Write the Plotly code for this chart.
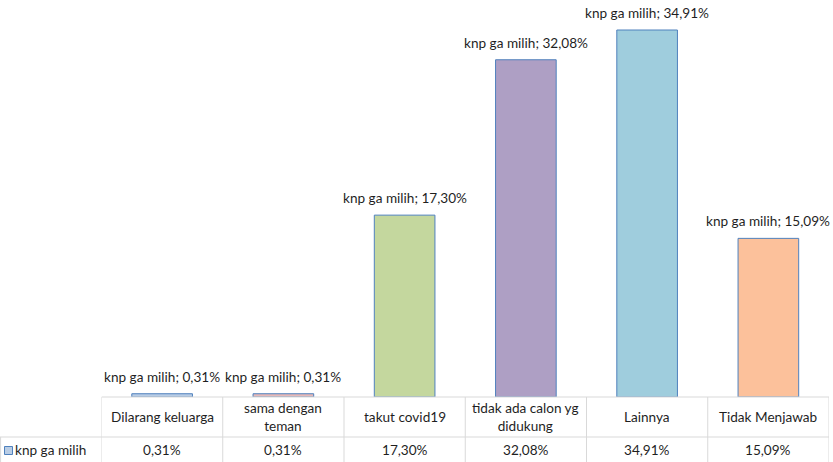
import plotly.graph_objects as go

categories = ["Dilarang keluarga", "sama dengan teman", "takut covid19",
              "tidak ada calon yg didukung", "Lainnya", "Tidak Menjawab"]
table_labels = ["Dilarang keluarga", "sama dengan<br>teman", "takut covid19",
                "tidak ada calon yg<br>didukung", "Lainnya", "Tidak Menjawab"]
series_name = "knp ga milih"
values = [0.31, 0.31, 17.30, 32.08, 34.91, 15.09]
colors = ["#B9CDE5", "#E6B9B8", "#C4D79E", "#AE9FC4", "#9FCDDD", "#FCC19B"]

W, H = 833, 462
FONT = "Lato"
FS = 13.6
TXT = "#1f1f1f"
GRID = "#D9D9D9"

def fmt(v):
    return f"{v:.2f}".replace(".", ",") + "%"

x_left, x_right = 101.5, 829.0
y_base = 397.0
row_sep = 437.0
px_per_unit = (397.0 - 30.0) / 34.91

fig = go.Figure()
fig.add_trace(go.Bar(
    x=categories, y=values, name=series_name,
    marker=dict(color=colors, line=dict(color="#4F81BD", width=1)),
    width=0.5, showlegend=False, hoverinfo="skip",
))

def py(p):
    return (H - p) / H

annotations = []
for c, v in zip(categories, values):
    annotations.append(dict(x=c, y=v, xref="x", yref="y", text=f"{series_name}; {fmt(v)}",
                            showarrow=False, yanchor="bottom", yshift=7,
                            font=dict(family=FONT, size=FS, color=TXT)))
for c, t in zip(categories, table_labels):
    annotations.append(dict(x=c, y=py((y_base + row_sep) / 2), xref="x", yref="paper", text=t,
                            showarrow=False, yanchor="middle",
                            font=dict(family=FONT, size=FS, color=TXT)))
for c, v in zip(categories, values):
    annotations.append(dict(x=c, y=py(449.5), xref="x", yref="paper", text=fmt(v),
                            showarrow=False, yanchor="middle",
                            font=dict(family=FONT, size=FS, color=TXT)))
annotations.append(dict(x=12.5 / W, y=py(449.5), xref="paper", yref="paper", text=series_name,
                        showarrow=False, xanchor="left", yanchor="middle",
                        font=dict(family=FONT, size=FS, color=TXT)))

shapes = []
n = len(categories)
shapes.append(dict(type="line", xref="x", yref="paper", x0=-0.5, x1=n - 0.5,
                   y0=py(y_base), y1=py(y_base), line=dict(color=GRID, width=1)))
shapes.append(dict(type="line", xref="paper", yref="paper", x0=0, x1=x_right / W,
                   y0=py(row_sep), y1=py(row_sep), line=dict(color=GRID, width=1)))
for i in range(n + 1):
    shapes.append(dict(type="line", xref="x", yref="paper", x0=i - 0.5, x1=i - 0.5,
                       y0=py(y_base), y1=0, line=dict(color=GRID, width=1)))
shapes.append(dict(type="line", xref="paper", yref="paper", x0=0.6 / W, x1=0.6 / W,
                   y0=py(row_sep), y1=0, line=dict(color=GRID, width=1)))
# legend key
shapes.append(dict(type="rect", xref="paper", yref="paper", x0=4.5 / W, x1=12.5 / W,
                   y0=py(454.5), y1=py(446.5), fillcolor="#B9CDE5",
                   line=dict(color="#4F81BD", width=1)))

fig.update_layout(
    width=W, height=H, margin=dict(l=0, r=0, t=0, b=0),
    paper_bgcolor="white", plot_bgcolor="white",
    xaxis=dict(domain=[x_left / W, x_right / W], range=[-0.5, n - 0.5],
               showticklabels=False, showgrid=False, zeroline=False, showline=False, ticks=""),
    yaxis=dict(domain=[py(y_base), 1], range=[0, y_base / px_per_unit],
               showticklabels=False, showgrid=False, zeroline=False, showline=False, ticks=""),
    annotations=annotations, shapes=shapes, showlegend=False,
    font=dict(family=FONT, size=FS, color=TXT),
)
fig.update_traces(cliponaxis=False)
fig.write_html("out.html")
